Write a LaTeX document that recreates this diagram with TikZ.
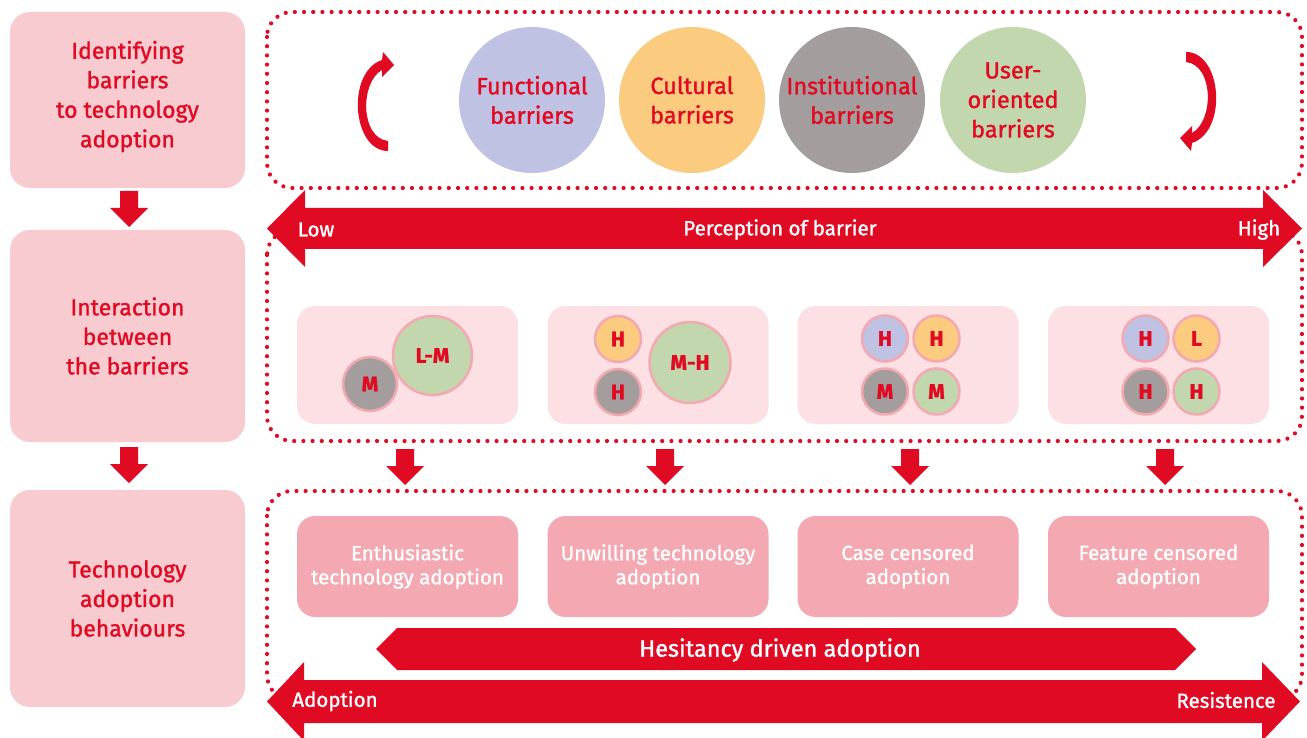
\documentclass[tikz,border=0pt]{standalone}
\usepackage{fontspec}
\setmainfont{Fira Sans}[FakeBold=1.3]
\usetikzlibrary{positioning}

\definecolor{brandred}{HTML}{E10A23}
\definecolor{stagepink}{HTML}{F7CBD0}
\definecolor{panelpink}{HTML}{FCE0E4}
\definecolor{boxpink}{HTML}{F4A9B2}
\definecolor{funccol}{HTML}{C0C2E3}
\definecolor{cultcol}{HTML}{FBCB80}
\definecolor{instcol}{HTML}{A39E9D}
\definecolor{usercol}{HTML}{C2D7AE}

\tikzset{
  stage/.style={fill=stagepink, rounded corners=20pt, minimum width=235pt,
    text=brandred, align=center, font=\fontsize{23}{29.5}\selectfont},
  barrier/.style={circle, minimum size=146pt, inner sep=0pt, text=brandred,
    align=center, font=\fontsize{23.5}{29.5}\selectfont},
  frame/.style={draw=brandred, line width=4.2pt, dash pattern=on 0pt off 9.2pt,
    line cap=round, rounded corners=25pt},
  panel/.style={fill=panelpink, rounded corners=18pt, minimum width=221pt,
    minimum height=118pt},
  level/.style={circle, draw=boxpink, line width=2.5pt, inner sep=0pt,
    text=brandred, font=\fontsize{21}{21}\selectfont\bfseries},
  behaviour/.style={fill=boxpink, rounded corners=18pt, minimum width=221pt,
    minimum height=101pt, text=white, align=center,
    font=\fontsize{20.5}{24}\selectfont},
  bandtext/.style={text=white, font=\fontsize{20.5}{20.5}\selectfont},
}

% block arrow pointing down, top centre at (#1,#2)
\newcommand{\downblock}[2]{%
  \fill[brandred] (#1-9,#2) -- (#1+9,#2) -- (#1+9,#2+17) -- (#1+19,#2+17)
    -- (#1,#2+36) -- (#1-19,#2+17) -- (#1-9,#2+17) -- cycle;}

\begin{document}
\begin{tikzpicture}[x=1pt,y=-1pt]
\useasboundingbox (0,0) rectangle (1307,738);

% stages on the left
\node[stage, minimum height=176pt] (s1) at (127.5,100) {};
\node[text=brandred, align=center, font=\fontsize{23}{29.5}\selectfont] (s1t) at (127.5,96.5) {Identifying\\barriers\\to technology\\adoption};
\node[stage, minimum height=212pt] (s2) at (127.5,336) {Interaction\\between\\the barriers};
\node[stage, minimum height=217pt] (s3) at (127.5,598.5) {Technology\\adoption\\behaviours};
\downblock{129}{191}
\downblock{129}{447}

% dotted frames
\draw[frame] (267,12) rectangle (1302,188);
\draw[frame] (267,230) rectangle (1302,441);
\draw[frame] (267,491) rectangle (1302,700);

% barriers
\node[barrier, fill=funccol] (func) at (532,100) {Functional\\barriers};
\node[barrier, fill=cultcol] (cult) at (692,100) {Cultural\\barriers};
\node[barrier, fill=instcol] (inst) at (852,100) {Institutional\\barriers};
\node[barrier, fill=usercol] (user) at (1013,100) {User-\\oriented\\barriers};

% turning arrows
\fill[brandred] (388,151) .. controls (352,151) and (346,72) .. (382,60)
  -- (383,52) -- (394,65) -- (382,77) -- (382,70)
  .. controls (360,82) and (360,138) .. (388,141) -- cycle;
\begin{scope}[rotate around={180:(787,101.5)}]
\fill[brandred] (388,151) .. controls (352,151) and (346,72) .. (382,60)
  -- (383,52) -- (394,65) -- (382,77) -- (382,70)
  .. controls (360,82) and (360,138) .. (388,141) -- cycle;
\end{scope}

% perception band
\fill[brandred] (267,228.5) -- (305,190) -- (305,208) -- (1263,208) -- (1263,190)
  -- (1302,228.5) -- (1263,267) -- (1263,249) -- (305,249) -- (305,267) -- cycle;
\node[bandtext] (low) at (316,229.5) {Low};
\node[bandtext] (perc) at (780,229.5) {Perception of barrier};
\node[bandtext] (high) at (1259,229.5) {High};

% interaction panels
\node[panel] (p1) at (407.5,365) {};
\node[panel] (p2) at (658,365) {};
\node[panel] (p3) at (908,365) {};
\node[panel] (p4) at (1158.5,365) {};

\node[level, fill=instcol, minimum size=54pt] (p1i) at (370,384) {M};
\node[level, fill=usercol, minimum size=79pt] (p1u) at (432.5,355.5) {L-M};

\node[level, fill=cultcol, minimum size=46pt] (p2c) at (618,339) {H};
\node[level, fill=instcol, minimum size=46pt] (p2i) at (618,392) {H};
\node[level, fill=usercol, minimum size=81pt] (p2u) at (690,362.5) {M-H};

\node[level, fill=funccol, minimum size=46pt] (p3f) at (885,338.5) {H};
\node[level, fill=cultcol, minimum size=46pt] (p3c) at (936.5,338.5) {H};
\node[level, fill=instcol, minimum size=46pt] (p3i) at (885,391.5) {M};
\node[level, fill=usercol, minimum size=46pt] (p3u) at (936.5,391.5) {M};

\node[level, fill=funccol, minimum size=46pt] (p4f) at (1145.5,338.5) {H};
\node[level, fill=cultcol, minimum size=46pt] (p4c) at (1196.5,338.5) {L};
\node[level, fill=instcol, minimum size=46pt] (p4i) at (1145.5,391.5) {H};
\node[level, fill=usercol, minimum size=46pt] (p4u) at (1196.5,391.5) {H};

% arrows to behaviours
\downblock{405}{449}
\downblock{665}{449}
\downblock{910}{449}
\downblock{1165}{449}

% behaviours
\node[behaviour] (b1) at (407.5,566.5) {Enthusiastic\\technology adoption};
\node[behaviour] (b2) at (658,566.5) {Unwilling technology\\adoption};
\node[behaviour] (b3) at (908,566.5) {Case censored\\adoption};
\node[behaviour] (b4) at (1158.5,566.5) {Feature censored\\adoption};

% hesitancy band
\fill[brandred] (376,649) -- (397,628) -- (1175,628) -- (1196,649) -- (1175,670) -- (397,670) -- cycle;
\node[text=white, font=\fontsize{23.5}{23.5}\selectfont] (hes) at (780,650) {Hesitancy driven adoption};

% adoption band
\fill[brandred] (267,701.5) -- (304,662) -- (304,680) -- (1262,680) -- (1262,662)
  -- (1300,701.5) -- (1262,741) -- (1262,723) -- (304,723) -- (304,741) -- cycle;
\node[bandtext] (adopt) at (335,701) {Adoption};
\node[bandtext] (resist) at (1226,700) {Resistence};
\end{tikzpicture}
\end{document}
